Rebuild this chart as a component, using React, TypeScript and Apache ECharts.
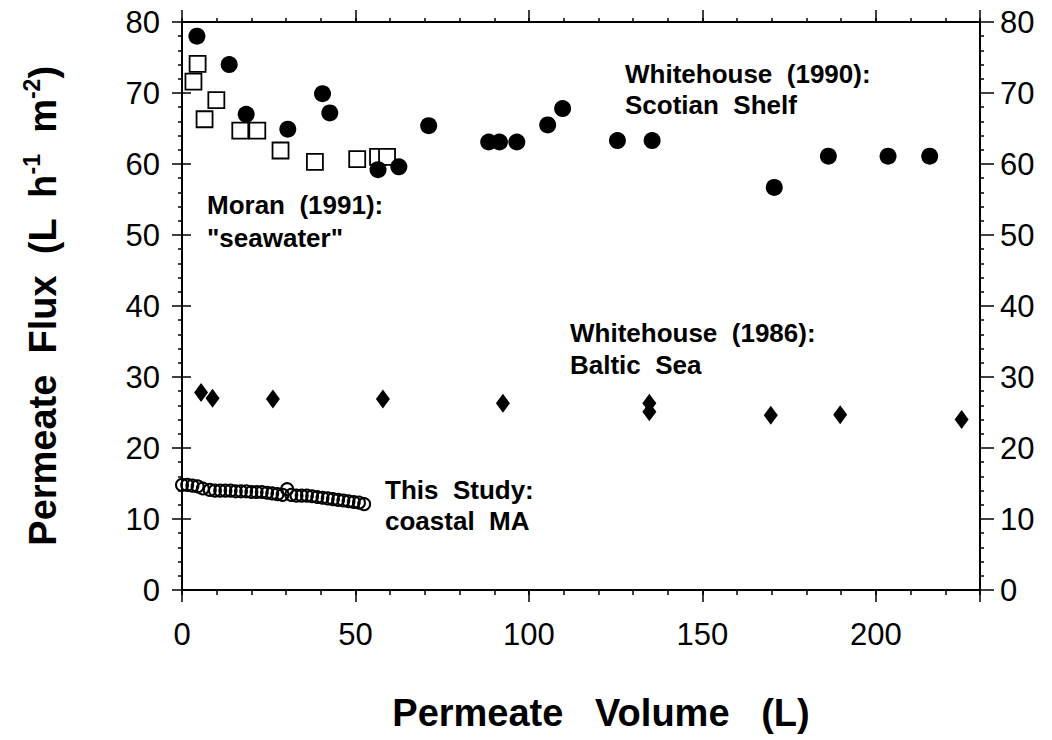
import React, { useEffect, useRef } from "react";
import * as echarts from "echarts";

// Moran (1991): "seawater" — open squares
const moranVolume = [3.3, 4.5, 6.5, 9.9, 16.8, 21.7, 28.4, 38.3, 50.5, 56.5, 59.1];
const moranFlux = [71.6, 74.1, 66.3, 69.0, 64.7, 64.7, 61.9, 60.3, 60.7, 61.0, 61.0];

// Whitehouse (1990): Scotian Shelf — filled circles
const wh1990Volume = [4.3, 13.6, 18.5, 30.5, 40.5, 42.6, 56.5, 62.5, 71.1, 88.4, 91.5, 96.5, 105.4, 109.7, 125.5, 135.5, 170.7, 186.3, 203.5, 215.5];
const wh1990Flux = [78.0, 74.0, 67.0, 64.9, 69.9, 67.2, 59.2, 59.6, 65.4, 63.1, 63.1, 63.1, 65.5, 67.8, 63.3, 63.3, 56.7, 61.1, 61.1, 61.1];

// Whitehouse (1986): Baltic Sea — filled diamonds
const wh1986Volume = [5.5, 8.8, 26.2, 57.9, 92.5, 134.7, 134.7, 169.7, 189.7, 224.7];
const wh1986Flux = [27.8, 27.0, 26.9, 26.9, 26.3, 26.3, 25.1, 24.6, 24.7, 24.0];

// This Study: coastal MA — open circles
const studyVolume = [0, 1.5, 3, 4.5, 6, 8, 9.5, 11, 12.5, 14, 15.5, 17, 18.5, 20, 21.5, 23, 24.5, 26, 27.5, 29, 30.3, 31.5, 33, 34.5, 36, 37.5, 39, 40.5, 42, 43.5, 45, 46.5, 48, 49.5, 51, 52.5];
const studyFlux = [14.8, 14.8, 14.7, 14.6, 14.3, 14.1, 14.0, 14.0, 14.0, 14.0, 13.9, 13.9, 13.9, 13.8, 13.8, 13.8, 13.7, 13.6, 13.5, 13.4, 14.2, 13.4, 13.3, 13.3, 13.3, 13.2, 13.1, 13.0, 12.9, 12.8, 12.7, 12.6, 12.5, 12.4, 12.3, 12.1];

const xTickLabels = [0, 50, 100, 150, 200];
const xMin = 0;
const xMax = 230;
const yMin = 0;
const yMax = 80;

const zip = (xs: number[], ys: number[]) => xs.map((x, i) => [x, ys[i]]);

export default function App() {
  const ref = useRef<HTMLDivElement>(null);
  useEffect(() => {
    if (!ref.current) return;
    const chart = echarts.init(ref.current, null, { renderer: "svg" });
    const font = "'Liberation Sans', Arial, Helvetica, sans-serif";
    const black = "#000";
    const lineW = 2;
    const baseX = {
      type: "value" as const,
      min: xMin,
      max: xMax,
      gridIndex: 0,
      splitLine: { show: false },
    };
    const baseY = {
      type: "value" as const,
      min: yMin,
      max: yMax,
      interval: 10,
      gridIndex: 0,
      splitLine: { show: false },
    };
    const option: any = {
      animation: false,
      backgroundColor: "#fff",
      grid: { left: 182, right: 72, top: 22, bottom: 150, containLabel: false },
      xAxis: [
        {
          ...baseX,
          position: "bottom",
          interval: 10,
          axisLine: { show: true, onZero: false, lineStyle: { color: black, width: lineW } },
          axisTick: { show: true, length: 5, lineStyle: { color: black, width: 1.5 } },
          axisLabel: {
            show: true,
            formatter: (v: number) => (xTickLabels.includes(v) ? String(v) : ""),
            fontSize: 31,
            fontFamily: font,
            color: black,
            margin: 29,
          },
          name: "Permeate   Volume   (L)",
          nameLocation: "middle",
          nameGap: 104,
          nameTextStyle: { fontSize: 38, fontWeight: "bold", fontFamily: font, color: black, padding: [0, 0, 0, 40] },
        },
        {
          ...baseX,
          position: "bottom",
          interval: 50,
          axisLine: { show: false, onZero: false },
          axisTick: { show: true, length: 12, lineStyle: { color: black, width: 1.5 } },
          axisLabel: { show: false },
        },
        {
          ...baseX,
          position: "top",
          interval: 10,
          axisLine: { show: true, onZero: false, lineStyle: { color: black, width: lineW } },
          axisTick: { show: true, length: 4, lineStyle: { color: black, width: 1.5 } },
          axisLabel: { show: false },
        },
        {
          ...baseX,
          position: "top",
          interval: 50,
          axisLine: { show: false, onZero: false },
          axisTick: { show: true, length: 12, lineStyle: { color: black, width: 1.5 } },
          axisLabel: { show: false },
        },
      ],
      yAxis: [
        {
          ...baseY,
          position: "left",
          axisLine: { show: true, onZero: false, lineStyle: { color: black, width: lineW } },
          axisTick: { show: true, length: 10, lineStyle: { color: black, width: 1.5 } },
          minorTick: { show: true, splitNumber: 5, length: 4, lineStyle: { color: black, width: 1.5 } },
          axisLabel: { show: true, fontSize: 31, fontFamily: font, color: black, margin: 22 },
          name: "Permeate  Flux  (L  h{sup|-1}  m{sup|-2})",
          nameLocation: "middle",
          nameGap: 116,
          nameRotate: 90,
          nameTextStyle: {
            fontSize: 38,
            fontWeight: "bold",
            fontFamily: font,
            color: black,
            lineHeight: 46,
            rich: {
              sup: { fontSize: 23, fontWeight: "bold", fontFamily: font, color: black, verticalAlign: "top", lineHeight: 23 },
            },
          },
        },
        {
          ...baseY,
          position: "right",
          axisLine: { show: true, onZero: false, lineStyle: { color: black, width: lineW } },
          axisTick: { show: true, length: 14, lineStyle: { color: black, width: 1.5 } },
          minorTick: { show: true, splitNumber: 5, length: 4, lineStyle: { color: black, width: 1.5 } },
          axisLabel: { show: true, fontSize: 31, fontFamily: font, color: black, margin: 20 },
        },
        {
          ...baseY,
          position: "left",
          axisLine: { show: false, onZero: false },
          axisTick: { show: true, inside: true, length: 9, lineStyle: { color: black, width: 1.5 } },
          axisLabel: { show: false },
        },
      ],
      series: [
        {
          name: "Whitehouse (1986): Baltic Sea",
          type: "scatter",
          xAxisIndex: 0,
          yAxisIndex: 0,
          symbol: "diamond",
          symbolSize: [14, 19],
          itemStyle: { color: black, opacity: 1 },
          data: zip(wh1986Volume, wh1986Flux),
          z: 2,
        },
        {
          name: 'Moran (1991): "seawater"',
          type: "scatter",
          xAxisIndex: 0,
          yAxisIndex: 0,
          symbol: "rect",
          symbolSize: 16,
          itemStyle: { color: "#fff", borderColor: black, borderWidth: 1.8, opacity: 1 },
          data: zip(moranVolume, moranFlux),
          z: 2,
        },
        {
          name: "Whitehouse (1990): Scotian Shelf",
          type: "scatter",
          xAxisIndex: 0,
          yAxisIndex: 0,
          symbol: "circle",
          symbolSize: 17,
          itemStyle: { color: black, opacity: 1 },
          data: zip(wh1990Volume, wh1990Flux),
          z: 3,
        },
        {
          name: "This Study: coastal MA",
          type: "scatter",
          xAxisIndex: 0,
          yAxisIndex: 0,
          symbol: "circle",
          symbolSize: 12,
          itemStyle: { color: "rgba(255,255,255,0)", borderColor: black, borderWidth: 2, opacity: 1 },
          data: zip(studyVolume, studyFlux),
          z: 3,
        },
      ],
      graphic: [
        { text: "Whitehouse  (1990):\nScotian  Shelf", left: 625, top: 58, lh: 31 },
        { text: 'Moran  (1991):\n"seawater"', left: 207, top: 188, lh: 33 },
        { text: "Whitehouse  (1986):\nBaltic  Sea", left: 570, top: 317, lh: 32 },
        { text: "This  Study:\ncoastal  MA", left: 385, top: 474, lh: 31 },
      ].map((t) => ({
        type: "text",
        left: t.left,
        top: t.top,
        z: 10,
        style: {
          text: t.text,
          fontSize: 26,
          fontWeight: "bold",
          fontFamily: font,
          lineHeight: t.lh,
          fill: black,
        },
      })),
    };
    chart.setOption(option);
    return () => chart.dispose();
  }, []);
  return (
    <div
      ref={ref}
      style={{ position: "fixed", left: 0, top: 0, width: 1052, height: 740, background: "#fff" }}
    />
  );
}
